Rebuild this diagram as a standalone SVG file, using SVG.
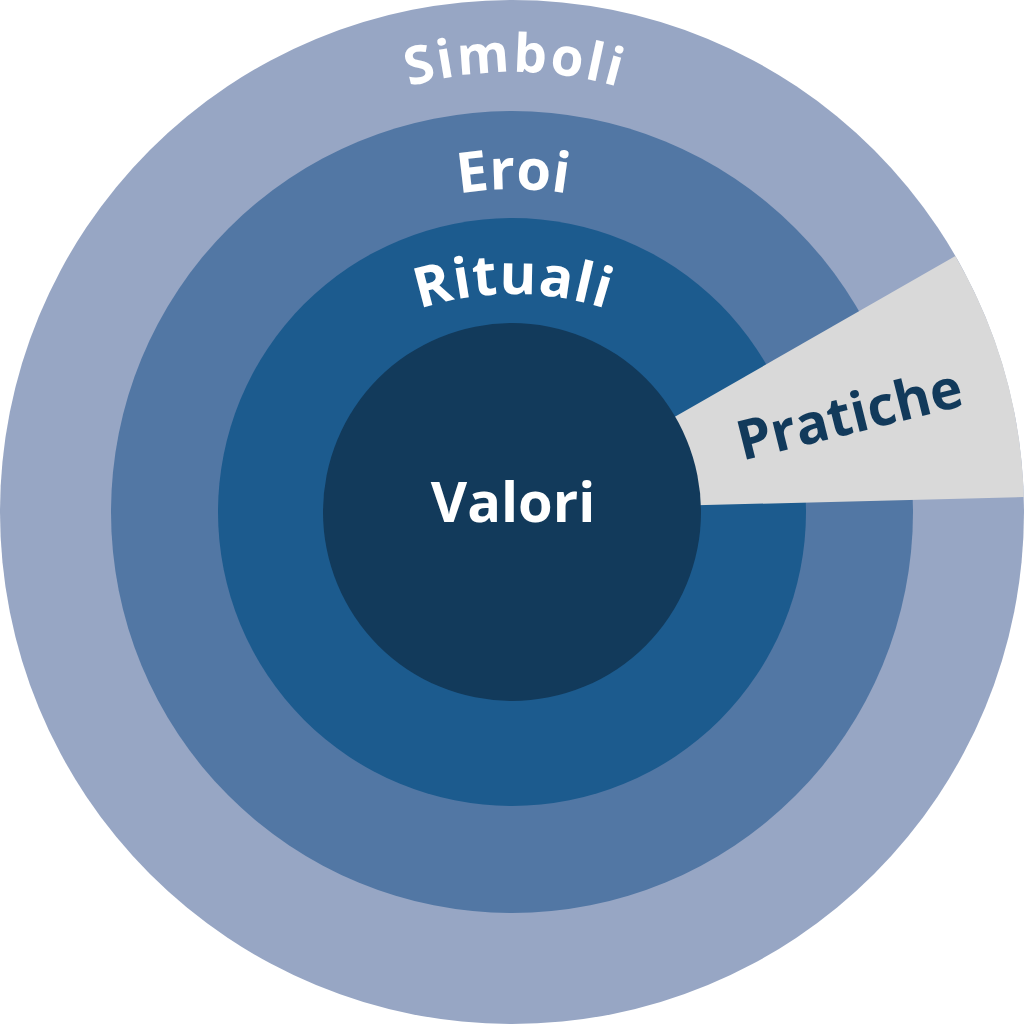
<svg xmlns="http://www.w3.org/2000/svg" xmlns:xlink="http://www.w3.org/1999/xlink" width="1024" height="1024" viewBox="0 0 1024 1024">
<style>
.lbl{font-family:"Open Sans","Liberation Sans",sans-serif;font-weight:700;fill:#ffffff;}
.dark{fill:#123a5b;}
</style>
<defs>
<path id="arcSimboli" d="M268.7,160.9 A380,380 0 0 1 757.3,160.9"/>
<path id="arcEroi" d="M279.7,285.7 A330,330 0 0 1 746.3,285.7"/>
<path id="arcRituali" d="M300.9,381.9 A300,300 0 0 1 725.1,381.9"/>
</defs>
<g id="simboli">
<circle cx="512" cy="512" r="512" fill="#97a6c4"/>
</g>
<g id="eroi">
<circle cx="512" cy="512" r="401" fill="#5277a4"/>
</g>
<g id="rituali">
<circle cx="512" cy="512" r="294" fill="#1c5b8e"/>
</g>
<g id="pratiche">
<path d="M512,510 L955.4,256 A512,512 0 0 1 1023.8,497 Z" fill="#d9d9d9"/>
</g>
<g id="valori">
<circle cx="512" cy="512" r="189" fill="#123a5b"/>
</g>
<g id="labels">
<text class="lbl" font-size="53" letter-spacing="2.5" text-anchor="middle"><textPath href="#arcSimboli" xlink:href="#arcSimboli" startOffset="50.3%">Simboli</textPath></text>
<text class="lbl" font-size="56" text-anchor="middle"><textPath href="#arcEroi" xlink:href="#arcEroi" startOffset="50%">Eroi</textPath></text>
<text class="lbl" font-size="56" letter-spacing="1" text-anchor="middle"><textPath href="#arcRituali" xlink:href="#arcRituali" startOffset="50%">Rituali</textPath></text>
<text class="lbl" font-size="56" text-anchor="middle" x="513" y="522">Valori</text>
<text class="lbl dark" font-size="55" text-anchor="middle" transform="translate(854,433) rotate(-14)">Pratiche</text>
</g>
</svg>
